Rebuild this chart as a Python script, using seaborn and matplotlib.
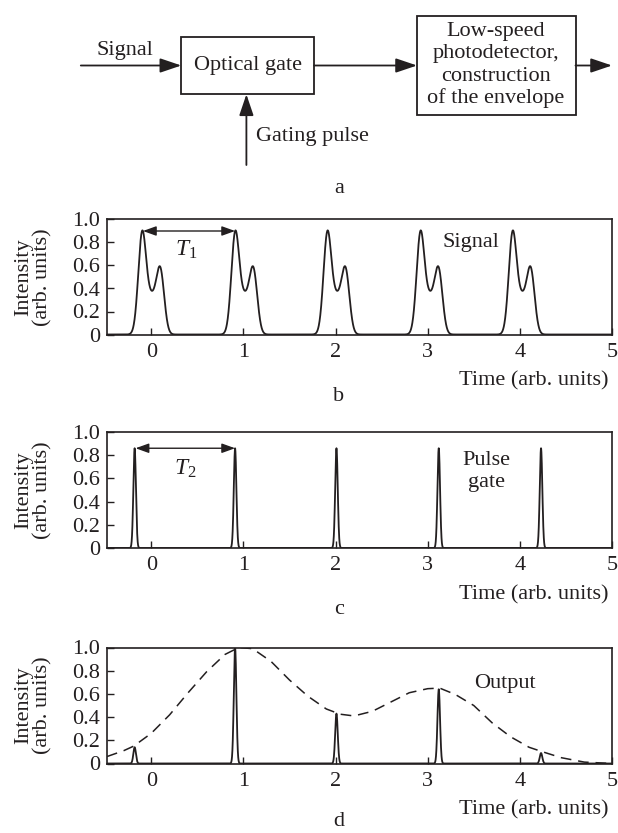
import numpy as np
import pandas as pd
import matplotlib
matplotlib.use("Agg")
import matplotlib.pyplot as plt
import seaborn as sns
from matplotlib.patches import Rectangle
from matplotlib.ticker import FixedLocator, FuncFormatter

# ---------------- data ----------------
# (b) signal: double-humped pulses; time of the main peak of each pulse
signal_peaks = [-0.10, 0.91, 1.91, 2.92, 3.92]
signal_main_amp = 0.824
signal_second_amp = 0.509
signal_bridge_amp = 0.306
signal_second_offset = 0.20
signal_bridge_offset = 0.10
signal_peak_width = 0.042
signal_bridge_width = 0.06

# (c) gating pulses
gate_times = [-0.18, 0.91, 2.01, 3.12, 4.23]
gate_heights = [0.86, 0.86, 0.86, 0.86, 0.86]
gate_width = 0.014

# (d) gated output pulses and envelope (dashed)
output_heights = [0.14, 1.00, 0.43, 0.64, 0.09]
envelope_t = [-0.48, -0.30, -0.19, 0.00, 0.20, 0.40, 0.60, 0.80, 0.95, 1.10,
              1.30, 1.50, 1.70, 1.90, 2.05, 2.20, 2.40, 2.60, 2.80, 3.00,
              3.13, 3.30, 3.50, 3.70, 3.90, 4.10, 4.25, 4.45, 4.70, 5.00]
envelope_i = [0.06, 0.11, 0.15, 0.26, 0.42, 0.61, 0.79, 0.94, 1.00, 0.99,
              0.88, 0.72, 0.58, 0.47, 0.425, 0.41, 0.45, 0.53, 0.61, 0.645,
              0.65, 0.595, 0.50, 0.35, 0.23, 0.14, 0.10, 0.05, 0.012, 0.0]

x_ticks = [0, 1, 2, 3, 4, 5]
y_ticks = [0, 0.2, 0.4, 0.6, 0.8, 1.0]

# ---------------- style ----------------
sns.set_theme(style="ticks")
plt.rcParams["font.family"] = ["Liberation Serif", "DejaVu Serif"]
plt.rcParams["mathtext.fontset"] = "custom"
plt.rcParams["mathtext.rm"] = "Liberation Serif"
plt.rcParams["mathtext.it"] = "Liberation Serif:italic"
INK = "#231f20"
FS = 16

W, H = 618, 833
fig = plt.figure(figsize=(W / 100, H / 100), dpi=100)


def axes_px(left, right, top, bottom):
    return fig.add_axes([left / W, 1 - bottom / H, (right - left) / W, (bottom - top) / H])


t = np.linspace(-0.48, 5.0, 4000)


def gauss(x, c, a, s):
    return a * np.exp(-((x - c) ** 2) / (2 * s ** 2))


signal = np.zeros_like(t)
for c in signal_peaks:
    signal += gauss(t, c, signal_main_amp, signal_peak_width)
    signal += gauss(t, c + signal_second_offset, signal_second_amp, signal_peak_width)
    signal += gauss(t, c + signal_bridge_offset, signal_bridge_amp, signal_bridge_width)

gate = np.zeros_like(t)
for c, h in zip(gate_times, gate_heights):
    gate += gauss(t, c, h, gate_width)

output = np.zeros_like(t)
for c, h in zip(gate_times, output_heights):
    output += gauss(t, c, h, gate_width)

df = pd.DataFrame({"t": t, "signal": signal, "gate": gate, "output": output})
env = pd.DataFrame({"t": envelope_t, "i": envelope_i})


def style_axes(ax):
    ax.set_xlim(-0.48, 5.0)
    ax.set_ylim(0, 1.0)
    ax.xaxis.set_major_locator(FixedLocator(x_ticks))
    ax.yaxis.set_major_locator(FixedLocator(y_ticks))
    ax.xaxis.set_major_formatter(FuncFormatter(lambda v, p: f"{int(round(v))}"))
    ax.yaxis.set_major_formatter(FuncFormatter(lambda v, p: "0" if abs(v) < 1e-9 else f"{v:.1f}"))
    ax.tick_params(direction="in", length=5, width=1.0, colors=INK, labelsize=FS,
                   top=False, right=False)
    ax.tick_params(axis="y", pad=5)
    ax.tick_params(axis="x", pad=6)
    for sp in ax.spines.values():
        sp.set_visible(True)
        sp.set_linewidth(1.2)
        sp.set_color(INK)
    ax.set_xlabel("")
    ax.set_ylabel("")
    ax.text(-0.145, 0.5, "Intensity\n(arb. units)", transform=ax.transAxes, rotation=90,
            ha="center", va="center", fontsize=FS, color=INK, linespacing=1.0,
            multialignment="center")
    ax.text(0.993, -0.40, "Time (arb. units)", transform=ax.transAxes, ha="right",
            va="center", fontsize=FS, color=INK)


# ---------------- (a) block diagram ----------------
ov = fig.add_axes([0, 0, 1, 1])
ov.set_xlim(0, W)
ov.set_ylim(H, 0)
ov.axis("off")

arrow_kw = dict(arrowstyle="-|>,head_length=0.65,head_width=0.22", lw=1.3, color=INK,
                mutation_scale=20, shrinkA=0, shrinkB=0)
ov.add_patch(Rectangle((181.3, 37.3), 314 - 181.3, 94.3 - 37.3, fill=False, lw=1.3, ec=INK))
ov.add_patch(Rectangle((417, 16), 575.5 - 417, 115 - 16, fill=False, lw=1.3, ec=INK))
ov.annotate("", xy=(181.3, 65.5), xytext=(80.8, 65.5), arrowprops=arrow_kw)
ov.annotate("", xy=(417, 65.5), xytext=(314, 65.5), arrowprops=arrow_kw)
ov.annotate("", xy=(612, 65.5), xytext=(575.5, 65.5), arrowprops=arrow_kw)
ov.annotate("", xy=(246.4, 94.3), xytext=(246.4, 165), arrowprops=arrow_kw)
ov.text(125, 50, "Signal", ha="center", va="center", fontsize=FS, color=INK)
ov.text(247.6, 65.5, "Optical gate", ha="center", va="center", fontsize=FS, color=INK)
ov.text(256, 136.7, "Gating pulse", ha="left", va="center", fontsize=FS, color=INK)
for yy, line in zip([31, 53.3, 76.7, 98.3],
                    ["Low-speed", "photodetector,", "construction", "of the envelope"]):
    ov.text(496, yy, line, ha="center", va="center", fontsize=FS, color=INK)
for yy, letter in zip([188.3, 396.5, 609.5, 822.0], ["a", "b", "c", "d"]):
    ov.text(339, yy, letter, ha="center", va="center", fontsize=FS, color=INK)

# ---------------- (b) signal ----------------
axb = axes_px(107, 612, 219.5, 334.5)
sns.lineplot(data=df, x="t", y="signal", ax=axb, color=INK, lw=1.3,
             estimator=None, sort=False)
style_axes(axb)
axb.annotate("", xy=(signal_peaks[0] + 0.01, 0.90), xytext=(signal_peaks[1], 0.90),
             arrowprops=dict(arrowstyle="<|-|>,head_length=0.5,head_width=0.18", lw=1.0,
                             color=INK, mutation_scale=16, shrinkA=0, shrinkB=0))
axb.text(0.38, 0.74, r"$T_1$", ha="center", va="center", fontsize=FS + 1, color=INK)
axb.text(3.47, 0.80, "Signal", ha="center", va="center", fontsize=FS, color=INK)

# ---------------- (c) gate ----------------
axc = axes_px(107, 612, 432, 548)
sns.lineplot(data=df, x="t", y="gate", ax=axc, color=INK, lw=1.3,
             estimator=None, sort=False)
style_axes(axc)
axc.annotate("", xy=(gate_times[0] + 0.01, 0.86), xytext=(gate_times[1], 0.86),
             arrowprops=dict(arrowstyle="<|-|>,head_length=0.5,head_width=0.18", lw=1.0,
                             color=INK, mutation_scale=16, shrinkA=0, shrinkB=0))
axc.text(0.37, 0.68, r"$T_2$", ha="center", va="center", fontsize=FS + 1, color=INK)
axc.text(3.64, 0.66, "Pulse\ngate", ha="center", va="center", fontsize=FS, color=INK,
         linespacing=1.2)

# ---------------- (d) output ----------------
axd = axes_px(107, 612, 647.5, 763.5)
sns.lineplot(data=df, x="t", y="output", ax=axd, color=INK, lw=1.3,
             estimator=None, sort=False)
sns.lineplot(data=env, x="t", y="i", ax=axd, color=INK, lw=1.1,
             estimator=None, sort=False, linestyle=(0, (7, 4.5)))
style_axes(axd)
axd.text(3.84, 0.69, "Output", ha="center", va="center", fontsize=FS, color=INK)

fig.savefig("out.png", dpi=100)
